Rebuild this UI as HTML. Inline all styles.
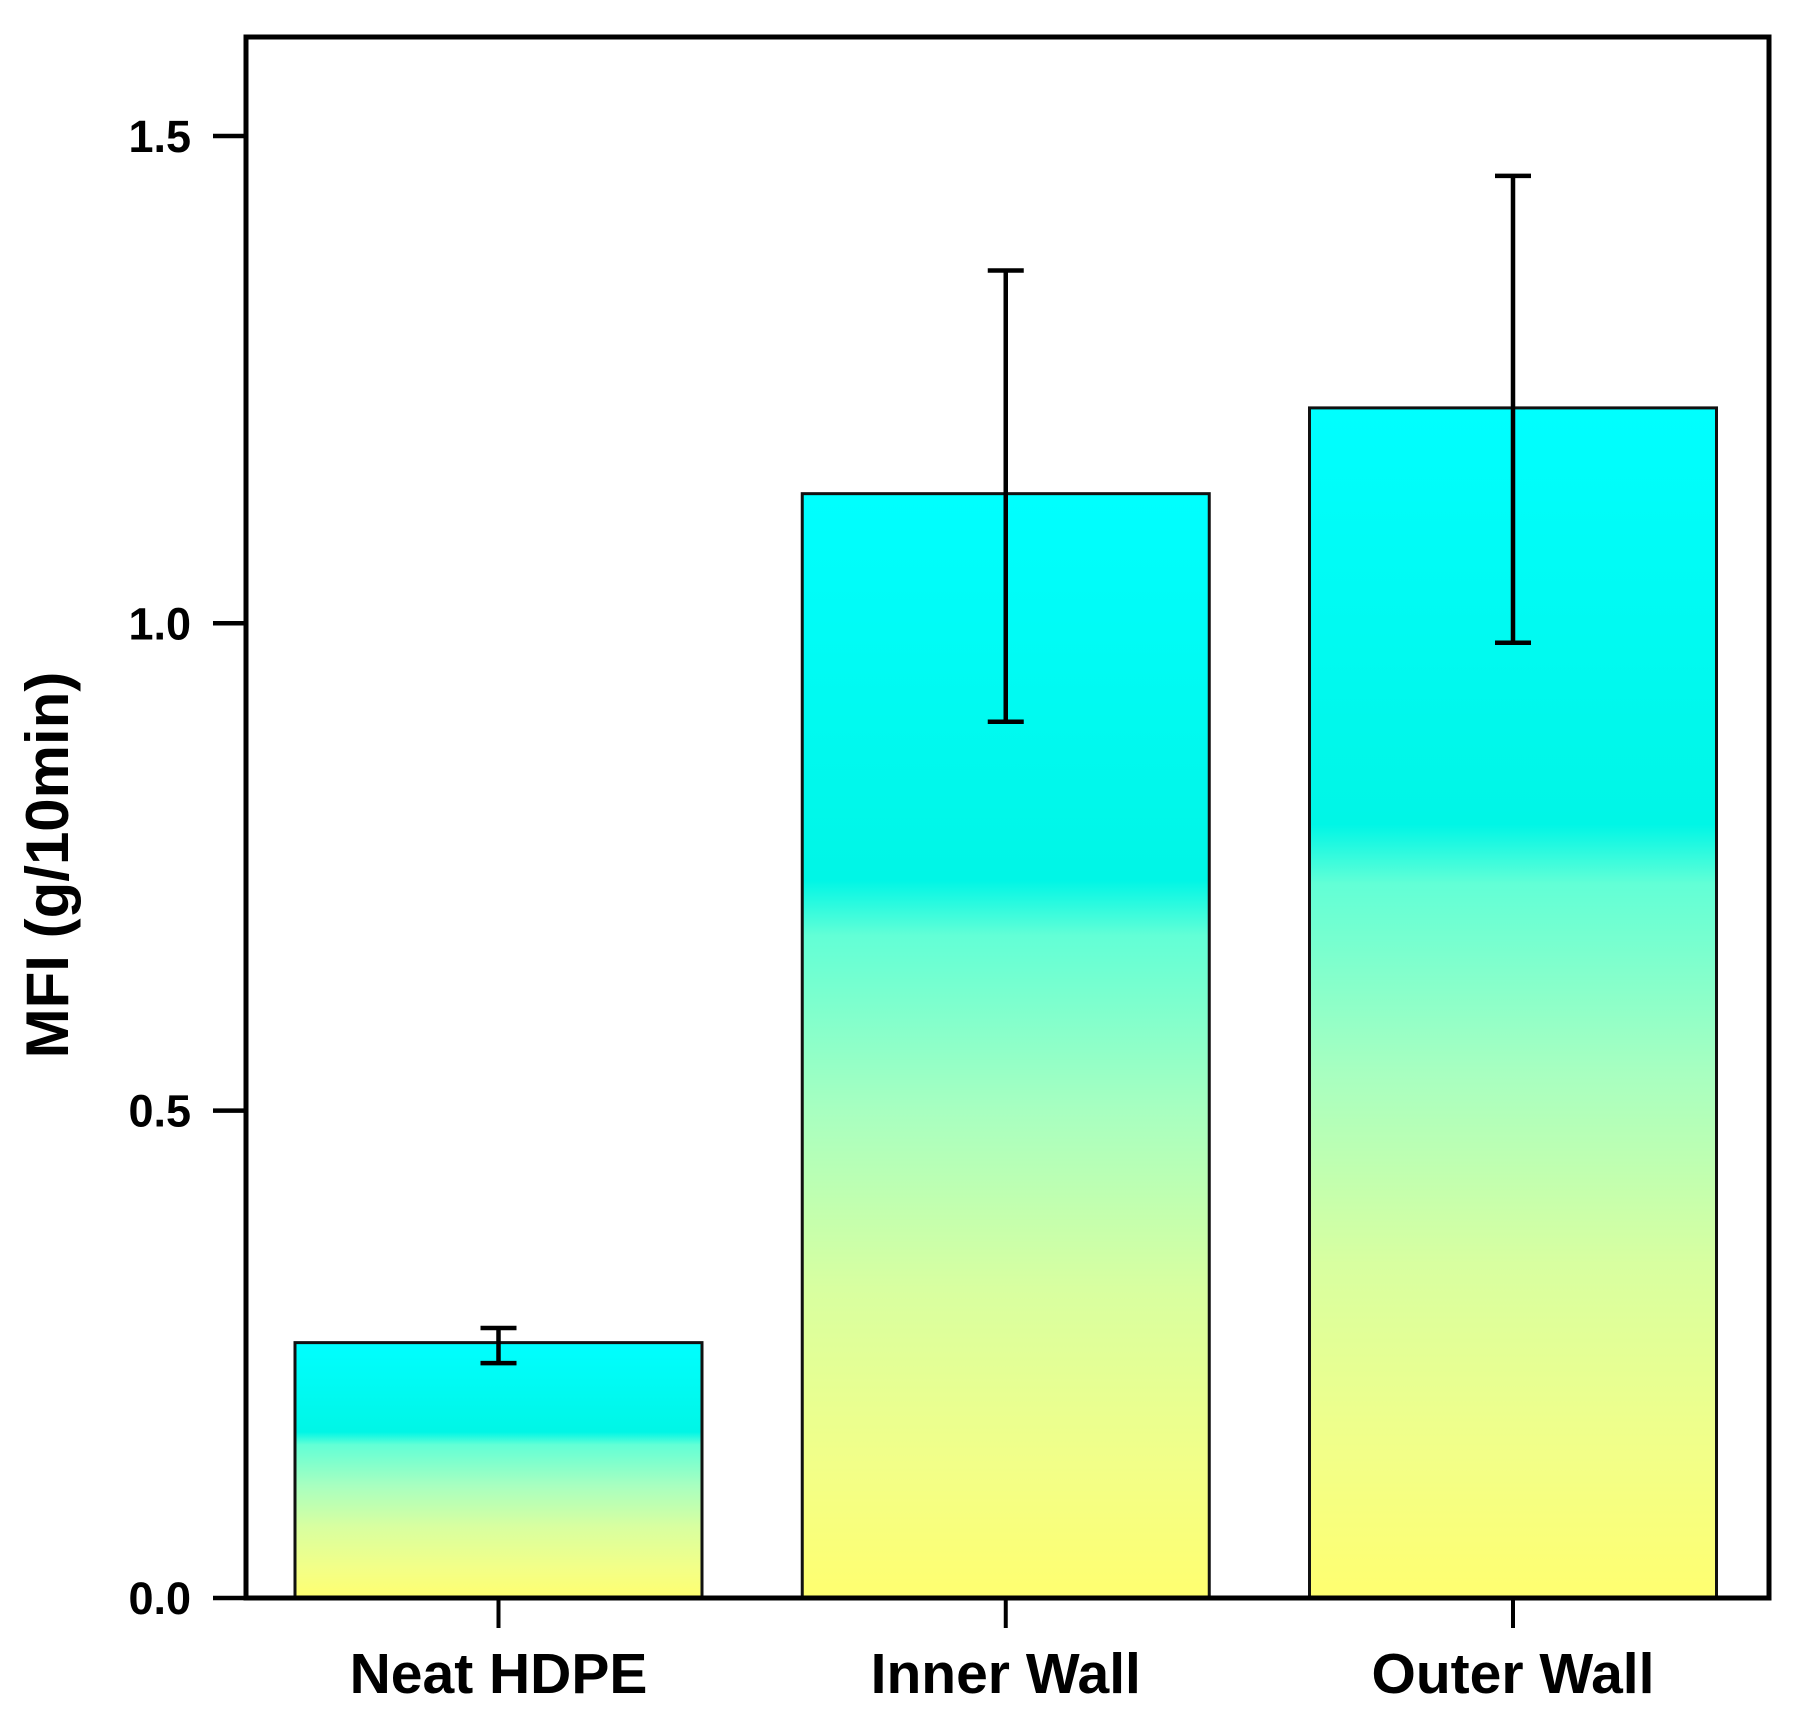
<!DOCTYPE html>
<html><head><meta charset="utf-8"><style>
html,body{margin:0;padding:0;background:#fff;}
svg{display:block;font-family:"Liberation Sans",sans-serif;font-weight:bold;}
</style></head><body>
<svg id="chart" width="1793" height="1733" viewBox="0 0 1793 1733" xmlns="http://www.w3.org/2000/svg">
<defs>
<linearGradient id="barGrad" x1="0" y1="0" x2="0" y2="1">
<stop offset="0" stop-color="#00ffff"/>
<stop offset="0.35" stop-color="#00f6e6"/>
<stop offset="0.40" stop-color="#62ffd6"/>
<stop offset="0.56" stop-color="#a8ffc0"/>
<stop offset="0.72" stop-color="#d8ffa0"/>
<stop offset="0.88" stop-color="#f2ff88"/>
<stop offset="1" stop-color="#ffff70"/>
</linearGradient>
</defs>
<g id="plot"></g>
</svg>
<script>
const categories = ["Neat HDPE", "Inner Wall", "Outer Wall"];
const values = [0.262, 1.133, 1.221];
const errUpper = [0.277, 1.362, 1.459];
const errLower = [0.241, 0.899, 0.980];
const yTicks = [0.0, 0.5, 1.0, 1.5];
const yTickLabels = ["0.0", "0.5", "1.0", "1.5"];

const NS = "http://www.w3.org/2000/svg";
const L = 246, R = 1769, T = 37, B = 1598;
const Y0 = 1598, PX_PER_UNIT = 974.7;
function yScale(v){ return Y0 - v * PX_PER_UNIT; }
const centers0 = [498.5, 1006, 1513];
function xScale(i){ return centers0[0] + i * (centers0[2]-centers0[0])/2; }
const BW = 407;
const g = document.getElementById('plot');
function mk(tag, attrs){ const e = document.createElementNS(NS, tag); for (const k in attrs) e.setAttribute(k, attrs[k]); g.appendChild(e); return e; }

categories.forEach((c, i) => {
  const cx = xScale(i);
  const bar = mk('rect', {x: cx - BW/2, y: yScale(values[i]), width: BW, height: yScale(0) - yScale(values[i]), fill: 'url(#barGrad)', stroke: '#111', 'stroke-width': 3});
  
  
  const eb = mk('path', {d: `M${cx},${yScale(errUpper[i])}V${yScale(errLower[i])}M${cx-18},${yScale(errUpper[i])}H${cx+18}M${cx-18},${yScale(errLower[i])}H${cx+18}`, stroke: '#000', 'stroke-width': 4.5, fill: 'none'});
  
  
  const tk = mk('line', {x1: cx, x2: cx, y1: B, y2: B + 30, stroke: '#000', 'stroke-width': 4});
  
  
  const t = mk('text', {x: cx, y: 1693, 'text-anchor': 'middle', 'font-size': 57, fill: '#000'});
  t.textContent = c;
  
  
});

yTicks.forEach((v, i) => {
  const y = yScale(v);
  const tk = mk('line', {x1: 213, x2: L, y1: y, y2: y, stroke: '#000', 'stroke-width': 4.5});
  
  
  const t = mk('text', {x: 191, y: y + 16, 'text-anchor': 'end', 'font-size': 45, fill: '#000'});
  t.textContent = yTickLabels[i];
  
  
});

const frame = mk('rect', {x: L, y: T, width: R - L, height: B - T, fill: 'none', stroke: '#000', 'stroke-width': 5});



const yt = mk('text', {x: 0, y: 0, transform: 'translate(68,865) rotate(-90)', 'text-anchor': 'middle', 'font-size': 60, fill: '#000'});
yt.textContent = 'MFI (g/10min)';


</script>
</body></html>
